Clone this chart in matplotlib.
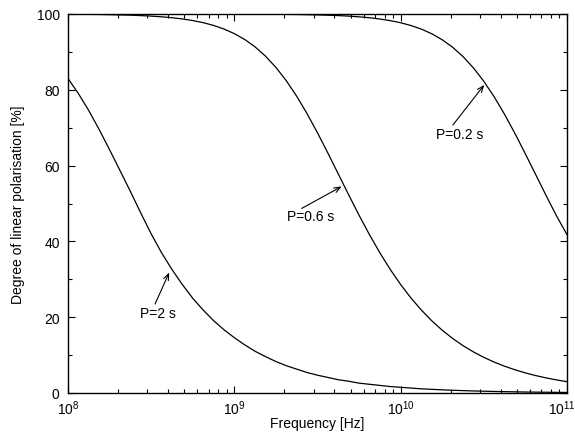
import matplotlib
matplotlib.use("Agg")
import matplotlib.pyplot as plt
import matplotlib.transforms as mtransforms
from matplotlib.ticker import LogLocator, MultipleLocator

plt.rcParams['font.family'] = ['Liberation Sans', 'DejaVu Sans']
plt.rcParams['mathtext.default'] = 'regular'

# Frequency grid [Hz] (read at 1/16-decade steps)
freq = [1.000e8, 1.155e8, 1.334e8, 1.540e8, 1.778e8, 2.054e8, 2.371e8, 2.738e8,
        3.162e8, 3.652e8, 4.217e8, 4.870e8, 5.623e8, 6.494e8, 7.499e8, 8.660e8,
        1.000e9, 1.155e9, 1.334e9, 1.540e9, 1.778e9, 2.054e9, 2.371e9, 2.738e9,
        3.162e9, 3.652e9, 4.217e9, 4.870e9, 5.623e9, 6.494e9, 7.499e9, 8.660e9,
        1.000e10, 1.155e10, 1.334e10, 1.540e10, 1.778e10, 2.054e10, 2.371e10, 2.738e10,
        3.162e10, 3.652e10, 4.217e10, 4.870e10, 5.623e10, 6.494e10, 7.499e10, 8.660e10,
        1.000e11]

# Degree of linear polarisation [%]
pol_P2s = [83.0, 79.0, 74.5, 69.5, 64.2, 58.7, 53.2, 47.5,
           42.0, 37.0, 32.6, 28.6, 25.0, 21.9, 19.1, 16.7,
           14.6, 12.7, 11.0, 9.6, 8.3, 7.2, 6.3, 5.4,
           4.7, 4.1, 3.5, 3.1, 2.6, 2.3, 2.0, 1.7,
           1.5, 1.3, 1.1, 0.97, 0.84, 0.72, 0.63, 0.54,
           0.47, 0.41, 0.35, 0.31, 0.26, 0.23, 0.20, 0.17,
           0.15]
pol_P06s = [99.94, 99.93, 99.90, 99.87, 99.82, 99.76, 99.69, 99.58,
            99.44, 99.26, 99.02, 98.70, 98.27, 97.72, 96.99, 96.04,
            94.82, 93.27, 91.31, 88.87, 85.91, 82.39, 78.30, 73.69,
            68.65, 63.29, 57.78, 52.27, 46.89, 41.77, 36.99, 32.59,
            28.61, 25.03, 21.85, 19.03, 16.56, 14.39, 12.49, 10.84,
            9.40, 8.15, 7.06, 6.12, 5.30, 4.59, 3.98, 3.45,
            2.98]
pol_P02s = [100.0, 100.0, 100.0, 100.0, 100.0, 100.0, 100.0, 100.0,
            100.0, 100.0, 100.0, 99.99, 99.99, 99.99, 99.99, 99.98,
            99.98, 99.97, 99.96, 99.94, 99.92, 99.90, 99.87, 99.82,
            99.76, 99.68, 99.58, 99.44, 99.25, 99.01, 98.68, 98.25,
            97.69, 96.95, 96.00, 94.77, 93.19, 91.22, 88.76, 85.78,
            82.24, 78.13, 73.50, 68.44, 63.07, 57.56, 52.04, 46.68,
            41.8]

labels = ["P=2 s", "P=0.6 s", "P=0.2 s"]

fig = plt.figure(figsize=(5.75, 4.35), dpi=100)
ax = fig.add_axes([68/575, 1-394/435, (567-68)/575, (394-15)/435])

for ys in (pol_P2s, pol_P06s, pol_P02s):
    ax.plot(freq, ys, color='black', lw=0.9)

ax.set_xscale('log')
ax.set_xlim(1e8, 1e11)
ax.set_ylim(0, 100)
ax.yaxis.set_major_locator(MultipleLocator(20))
ax.yaxis.set_minor_locator(MultipleLocator(10))
ax.xaxis.set_major_locator(LogLocator(base=10, numticks=10))
ax.xaxis.set_minor_locator(LogLocator(base=10, subs=range(2, 10), numticks=20))

ax.tick_params(which='both', direction='in', top=True, right=True, labelsize=10, width=0.8)
ax.tick_params(which='major', length=5)
ax.tick_params(which='minor', length=3)
ax.tick_params(axis='y', pad=6)
ax.tick_params(axis='x', pad=4)
for s in ax.spines.values():
    s.set_linewidth(1.0)

ax.set_xlabel("Frequency [Hz]", fontsize=10, labelpad=-1)
ax.set_ylabel("Degree of linear polarisation [%]", fontsize=10, labelpad=8)

arrow = dict(arrowstyle='->,head_length=0.45,head_width=0.18', lw=0.8, color='black',
             shrinkA=0, shrinkB=0)
# P=2 s
ax.annotate('', xy=(4.06e8, 31.8), xytext=(3.34e8, 23.5), arrowprops=arrow)
ax.text(3.47e8, 21.2, labels[0], ha='center', va='center', fontsize=10)
# P=0.6 s
ax.annotate('', xy=(4.42e9, 54.5), xytext=(2.54e9, 48.7), arrowprops=arrow)
ax.text(2.89e9, 46.6, labels[1], ha='center', va='center', fontsize=10)
# P=0.2 s
ax.annotate('', xy=(3.18e10, 81.3), xytext=(2.06e10, 70.7), arrowprops=arrow)
ax.text(2.26e10, 68.3, labels[2], ha='center', va='center', fontsize=10)

# keep the last x tick label inside the figure
fig.canvas.draw()
for tick in ax.xaxis.get_major_ticks():
    if abs(tick.get_loc() - 1e11) / 1e11 < 1e-6:
        lab = tick.label1
        lab.set_transform(lab.get_transform() +
                          mtransforms.ScaledTranslation(-5/100, 0, fig.dpi_scale_trans))

fig.savefig("out.png", dpi=100)
